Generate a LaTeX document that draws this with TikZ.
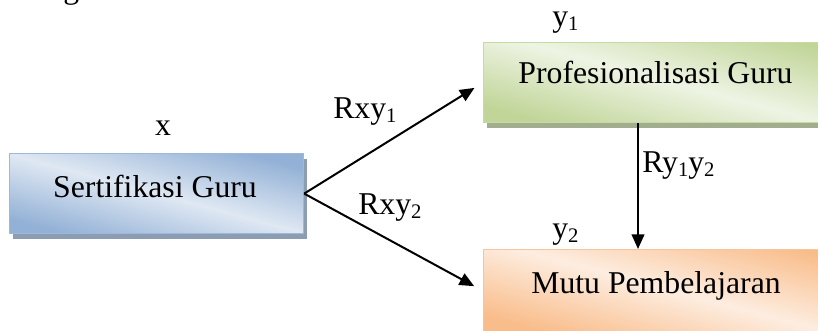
\documentclass[tikz,border=0pt]{standalone}
\usepackage{fontspec}
\setmainfont{Liberation Serif}
\usetikzlibrary{arrows.meta,shadows}
\definecolor{bluedark}{HTML}{93B1D6}
\definecolor{bluelight}{HTML}{DFE8F3}
\definecolor{blueborder}{HTML}{9DB8DA}
\definecolor{blueshadow}{HTML}{8C9DB3}
\definecolor{greendark}{HTML}{C1D598}
\definecolor{greenlight}{HTML}{EEF4E4}
\definecolor{greenborder}{HTML}{C8DAA3}
\definecolor{greenshadow}{HTML}{A2AC8E}
\definecolor{orangedark}{HTML}{F9BD8B}
\definecolor{orangelight}{HTML}{FDEDE0}
\definecolor{orangeborder}{HTML}{FAC49A}
\definecolor{orangeshadow}{HTML}{B8A08C}
\newcommand\sbs[1]{\raisebox{-3pt}{\fontsize{15.5pt}{18pt}\selectfont #1}}
\begin{document}
\begin{tikzpicture}[x=0.75pt,y=-0.75pt,
  every node/.style={font=\fontsize{23.8pt}{28pt}\selectfont},
  box/.style={draw=#1border, line width=0.9pt, shading=axis, anchor=north west,
    top color=#1dark, bottom color=#1dark, middle color=#1light, shading angle=-15,
    drop shadow={shadow xshift=2.5pt, shadow yshift=-4pt, fill=#1shadow, opacity=1}},
  boxtxt/.style={anchor=base, inner sep=0pt},
  lbl/.style={anchor=base west, inner sep=0pt},
  arr/.style={line width=1.5pt, -{Triangle[length=11pt,width=9.5pt]}}
]
\useasboundingbox (0,0) rectangle (818,330);
\node[lbl] (gfrag) at (63,-2) {g};
\node[box=blue, minimum width=220.5pt, minimum height=60pt] (sg) at (9,153) {};
\node[box=green, minimum width=285pt, minimum height=60pt] (pg) at (483,42) {};
\node[box=orange, minimum width=285pt, minimum height=62pt] (mp) at (483,249) {};
\node[boxtxt] (sgt) at (155,197) {Sertifikasi Guru};
\node[boxtxt] (pgt) at (655.5,83) {Profesionalisasi Guru};
\node[boxtxt] (mpt) at (656,293) {Mutu Pembelajaran};
\node[anchor=base, inner sep=0pt] (lx) at (163,135) {x};
\node[lbl] (ly1) at (552,26) {y\sbs{1}};
\node[lbl] (ly2) at (552,238) {y\sbs{2}};
\node[lbl] (lr1) at (333,118) {Rxy\sbs{1}};
\node[lbl] (lr2) at (358,214) {Rxy\sbs{2}};
\node[lbl] (lr3) at (642,172) {Ry\sbs{1}y\sbs{2}};
\coordinate (vx) at (638,0);
\draw[arr, shorten >=7.5pt] (sg.east) -- (pg.west);
\draw[arr, shorten >=7.5pt] (sg.east) -- (mp.west);
\draw[arr] (pg.south -| vx) -- (mp.north -| vx);
\end{tikzpicture}
\end{document}
